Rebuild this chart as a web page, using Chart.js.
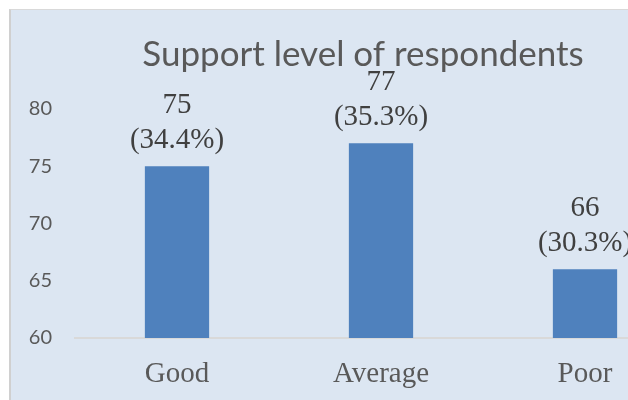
<!DOCTYPE html>
<html>
<head>
<meta charset="utf-8">
<script src="https://cdn.jsdelivr.net/npm/chart.js@4/dist/chart.umd.min.js"></script>
<style>
	html, body { margin: 0; padding: 0; background: #ffffff; overflow: hidden; width: 628px; height: 400px; }
	.chart--frame {
		position: absolute; left: 9px; top: 9px;
		width: 704px; height: 400px;
		background: #dce6f2;
		border-left: 2px solid #d0d0d0;
		border-top: 1px solid #d9d9d9;
	}
	canvas { display: block; }
</style>
</head>
<body>
<div class="chart--frame"><canvas id="chart" width="704" height="400"></canvas></div>
<script>
(function () {
	'use strict';

	const categories = ['Good', 'Average', 'Poor'];
	const respondents = [75, 77, 66];
	const yTicks = [60, 65, 70, 75, 80];

	const total = respondents.reduce(function(a, b) { return a + b; }, 0);

	// value + share above each bar, two lines like the Excel labels
	const barLabels = {
		id: 'barLabels',
		afterDatasetsDraw(chart) {
			const ctx = chart.ctx;
			const meta = chart.getDatasetMeta(0);
			ctx.save();
			ctx.fillStyle = '#404040';
			ctx.font = "29px 'Liberation Serif', 'Times New Roman', serif";
			ctx.textAlign = 'center';
			ctx.textBaseline = 'alphabetic';
			meta.data.forEach(function(bar, i) {
				const value = respondents[i];
				const share = (value / total * 100).toFixed(1) + '%';
				ctx.fillText(String(value), bar.x, bar.y - 53);
				ctx.fillText('(' + share + ')', bar.x, bar.y - 18);
			});
			ctx.restore();
		}
	};

	new Chart(document.getElementById('chart'), {
		type: 'bar',
		data: {
			labels: categories,
			datasets: [{
				data: respondents,
				backgroundColor: '#4f81bd',
				barPercentage: 0.9,
				categoryPercentage: 0.35
			}]
		},
		options: {
			responsive: false,
			animation: false,
			devicePixelRatio: 1,
			layout: {
				padding: 0
			},
			plugins: {
				legend: false,
				tooltip: { enabled: false },
				title: {
					display: true,
					text: 'Support level of respondents',
					color: '#595959',
					font: { family: "Lato, 'Open Sans', sans-serif", size: 35, weight: 'normal' },
					padding: { top: 24, bottom: 33 }
				}
			},
			scales: {
				x: {
					grid: { display: false, drawTicks: false },
					border: { display: true, color: '#d9d9d9', width: 2 },
					ticks: {
						color: '#595959',
						padding: 19,
						font: { family: "'Liberation Serif', 'Times New Roman', serif", size: 29 }
					},
					afterFit(scale) { scale.height = 72; }
				},
				y: {
					min: 60,
					max: 80,
					grid: { display: false, drawTicks: false },
					border: { display: false },
					afterBuildTicks(scale) {
						scale.ticks = yTicks.map(function(v) { return { value: v }; });
					},
					ticks: {
						color: '#595959',
						padding: 23,
						font: { family: "Lato, 'Open Sans', sans-serif", size: 20 }
					},
					afterFit(scale) { scale.width = 64; }
				},
				// empty right-hand spacer so the plot ends off-canvas like the cropped original
				spacer: {
					type: 'linear',
					position: 'right',
					display: true,
					grid: { display: false, drawTicks: false },
					border: { display: false },
					ticks: { display: false },
					afterFit(scale) { scale.width = 28; }
				}
			}
		},
		plugins: [barLabels]
	});
})();
</script>
</body>
</html>
